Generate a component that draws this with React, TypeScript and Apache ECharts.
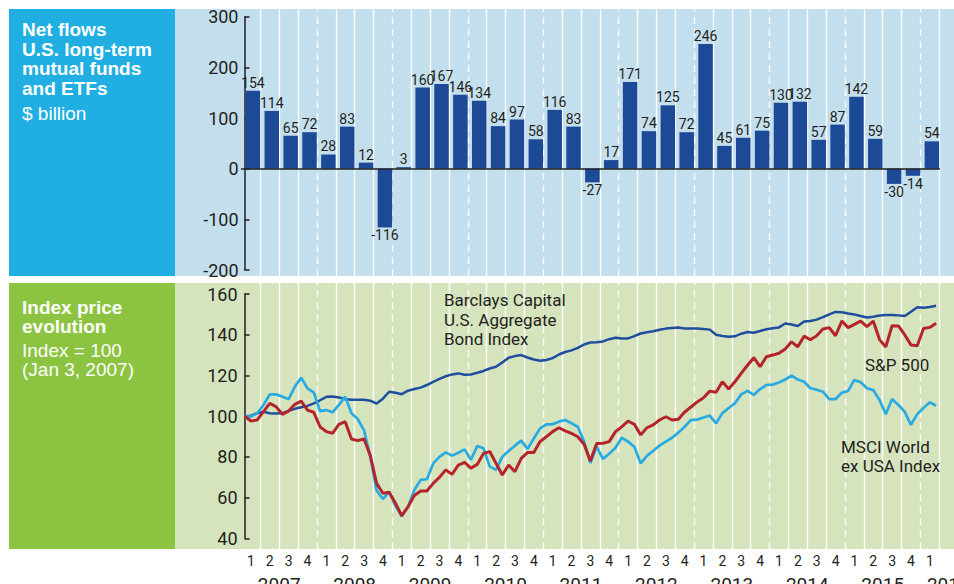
import React, { useEffect, useRef } from 'react';
import * as echarts from 'echarts';

// ---------- data ----------
const years = ['2007', '2008', '2009', '2010', '2011', '2012', '2013', '2014', '2015', '2016'];

const quarterLabels = [
  '1', '2', '3', '4', '1', '2', '3', '4', '1', '2', '3', '4', '1', '2', '3', '4',
  '1', '2', '3', '4', '1', '2', '3', '4', '1', '2', '3', '4', '1', '2', '3', '4',
  '1', '2', '3', '4', '1',
];

// Net flows, U.S. long-term mutual funds and ETFs, $ billion (quarterly, 2007 Q1 - 2016 Q1)
const netFlows = [
  154, 114, 65, 72, 28, 83, 12, -116, 3, 160, 167, 146, 134, 84, 97, 58,
  116, 83, -27, 17, 171, 74, 125, 72, 246, 45, 61, 75, 130, 132, 57, 87,
  142, 59, -30, -14, 54,
];

// Monthly index levels, Jan 2007 = 100
const bondIndex = [
  100, 100.2, 101.5, 102.2, 101.4, 101.3, 101.5, 102.6, 103.6, 104.4, 105, 106.3,
  107.8, 109.5, 109.7, 109.2, 108.3, 108, 108.1, 108.1, 107.6, 106.2, 108.6, 112,
  111.5, 110.8, 112.5, 113.3, 114, 115.3, 116.8, 118.3, 119.6, 120.5, 121, 120.3,
  120.5, 121.3, 122.2, 123.4, 124.3, 126.4, 128.7, 129.5, 130, 128.8, 127.8, 127.2,
  127.6, 128.5, 130.3, 131.5, 132.3, 133.5, 135.2, 136.2, 136.3, 136.7, 137.8, 138.5,
  138.1, 138.2, 139.3, 140.6, 141.2, 141.7, 142.4, 143, 143.3, 143.5, 143.1, 143.1,
  143, 142.8, 142.5, 140, 139.4, 139, 139.2, 140.5, 141.3, 141, 141.8, 142.7,
  143.2, 143.6, 145.5, 145, 144.3, 146.5, 146.7, 147.4, 148.6, 150, 151.2, 151,
  150.4, 149.9, 149.2, 148.5, 148.8, 149.4, 149.7, 149.7, 149.5, 149.2, 151.3, 153.5,
  153.3, 153.6, 154.2,
];

const sp500 = [
  100, 97.6, 98.1, 102.2, 106.3, 104.7, 100.9, 102.5, 105.8, 107.4, 103, 101.9,
  94.8, 92.4, 91.6, 96, 97.3, 88.8, 88, 88.8, 80.6, 67, 62.1, 62.6,
  57.2, 51.1, 55.5, 61, 63.2, 63.2, 67, 70, 73.6, 71.4, 76, 77.3,
  74.4, 76.3, 81.7, 82.6, 76.8, 71.1, 76, 72.7, 79.3, 82.1, 82.1, 87.5,
  89.9, 92.4, 94.3, 92.8, 91.5, 89.9, 86.2, 78, 86.6, 86.7, 87.5, 92.4,
  94.8, 97.6, 96, 90.8, 94.3, 95.7, 98.1, 99.7, 98.1, 98.5, 102, 104.5,
  107, 109, 112.3, 111.7, 116.9, 113.3, 116.9, 121, 125, 128.7, 124.3, 129.2,
  130, 130.9, 133, 136.5, 134.1, 139.3, 137.5, 139.5, 142.8, 143.5, 139.5, 146.7,
  143.5, 145.1, 146.7, 144, 146.7, 137.6, 134, 144.4, 144.3, 140, 135, 134.6,
  143.1, 143.6, 145.6,
];

const msciWorldExUsa = [
  100, 99.8, 101.4, 105.5, 110.7, 110.7, 109.6, 108.3, 114.5, 118.9, 113.7, 111.7,
  102.5, 103, 101.9, 105.5, 109.6, 101.4, 98.6, 93, 80, 63.5, 59.3, 62.9,
  56, 50.8, 55.5, 63.7, 68.7, 69, 76.8, 80, 82.2, 80.6, 82, 83.7,
  78.5, 85.3, 84.2, 75.2, 73.6, 80.1, 82.9, 85.5, 88, 83.9, 89, 94,
  96, 96, 97.3, 98.1, 96.5, 94.8, 87.5, 77, 85, 79, 81.5, 84.5,
  89.4, 87.5, 85, 76.8, 80.5, 83, 85.5, 87.5, 89.4, 91.9, 94.8, 98.1,
  98.3, 99.3, 100.3, 96.5, 101.5, 104, 106.3, 110.7, 112.4, 110.4, 113.3, 115.3,
  115.5, 116.5, 118, 119.9, 118, 116.9, 113.7, 113, 112, 108.4, 108.4, 111.5,
  112.4, 117.8, 116.6, 113.7, 112.8, 107.9, 100.9, 108.4, 105.5, 102.2, 95.7, 101,
  104, 106.8, 105.1,
];

const flowAxis = { min: -200, max: 300, step: 100 };
const indexAxis = { min: 40, max: 160, step: 20 };

// ---------- styling ----------
const FONT = "Roboto, 'Liberation Sans', Arial, sans-serif";
const SIDE_FONT = "'Liberation Sans', Arial, sans-serif";
const INK = '#231f20';

const App: React.FC = () => {
  const ref = useRef<HTMLDivElement>(null);

  useEffect(() => {
    if (!ref.current) return;
    const chart = echarts.init(ref.current, undefined, { renderer: 'svg' });

    const nQ = quarterLabels.length;
    const splitLineData = quarterLabels.map((_, i) => {
      const b = i + 1;
      const yearEdge = b % 4 === 0 && b < nQ;
      return {
        xAxis: b,
        lineStyle: { color: '#ffffff', width: 1.3, type: yearEdge ? [7, 5] : 'solid' },
      };
    });
    const markLineOpt = {
      silent: true,
      z: 1,
      symbol: ['none', 'none'],
      label: { show: false },
      animation: false,
      data: splitLineData,
    };

    const hiddenValueAxis = (gridIndex: number, min: number, max: number) => ({
      gridIndex, type: 'value', min, max, show: false,
    });

    const sideText = (text: string, y: number, bold: boolean) => ({
      type: 'text',
      x: 22,
      y,
      z: 10,
      style: {
        text,
        fill: '#ffffff',
        fontSize: 19,
        fontWeight: bold ? 'bold' : 'normal',
        fontFamily: SIDE_FONT,
        textAlign: 'left',
        verticalAlign: 'middle',
        textVerticalAlign: 'middle',
      },
    });
    const noteText = (text: string, x: number, y: number) => ({
      type: 'text',
      x,
      y,
      z: 10,
      style: {
        text,
        fill: INK,
        fontSize: 17,
        fontFamily: FONT,
        textAlign: 'left',
        verticalAlign: 'middle',
        textVerticalAlign: 'middle',
      },
    });

    const gridBase = { containLabel: false, outerBoundsMode: 'none' };

    const option: any = {
      animation: false,
      grid: [
        { ...gridBase, left: 241.5, right: 14.7, top: 16.7, bottom: 314 }, // 0 bars
        { ...gridBase, left: 241.5, right: 14.7, top: 9, bottom: 308 }, // 1 top split lines
        { ...gridBase, left: 244.6, right: 17.9, top: 294, bottom: 45.7 }, // 2 index lines
        { ...gridBase, left: 241.5, right: 14.7, top: 283, bottom: 35 }, // 3 bottom split lines + labels
      ],
      xAxis: [
        {
          gridIndex: 0,
          type: 'category',
          data: quarterLabels,
          z: 5,
          axisLine: { show: true, onZero: true, lineStyle: { color: INK, width: 1.5 } },
          axisTick: { show: false },
          axisLabel: { show: false },
          splitLine: { show: false },
        },
        hiddenValueAxis(1, 0, nQ),
        hiddenValueAxis(2, 0, bondIndex.length - 1),
        hiddenValueAxis(3, 0, nQ),
        {
          gridIndex: 3,
          type: 'category',
          position: 'bottom',
          data: quarterLabels,
          axisLine: { show: false },
          axisTick: { show: false },
          splitLine: { show: false },
          axisLabel: {
            interval: 0,
            hideOverlap: false,
            color: INK,
            fontSize: 14,
            fontFamily: FONT,
            margin: 5,
          },
        },
        {
          gridIndex: 3,
          type: 'value',
          position: 'bottom',
          min: 0,
          max: nQ,
          interval: 2,
          axisLine: { show: false },
          axisTick: { show: false },
          splitLine: { show: false },
          axisLabel: {
            showMinLabel: true,
            showMaxLabel: true,
            hideOverlap: false,
            color: INK,
            fontSize: 19,
            fontFamily: FONT,
            margin: 26,
            rich: {
              last: { color: INK, fontSize: 19, fontFamily: FONT, padding: [0, 0, 0, 18] },
            },
            formatter: (v: number) => {
              if (v === nQ) return '{last|' + years[years.length - 1] + '}';
              if ((v - 2) % 4 === 0) return years[(v - 2) / 4] ?? '';
              return '';
            },
          },
        },
      ],
      yAxis: [
        {
          gridIndex: 0,
          type: 'value',
          min: flowAxis.min,
          max: flowAxis.max,
          interval: flowAxis.step,
          offset: -3,
          axisLine: { show: true, lineStyle: { color: INK, width: 1.5 } },
          axisTick: { show: true, inside: true, length: 5, lineStyle: { color: INK, width: 1.5 } },
          axisLabel: { color: INK, fontSize: 18, fontFamily: FONT, margin: 6 },
          splitLine: { show: false },
        },
        hiddenValueAxis(1, 0, 1),
        {
          gridIndex: 2,
          type: 'value',
          min: indexAxis.min,
          max: indexAxis.max,
          interval: indexAxis.step,
          axisLine: { show: true, lineStyle: { color: INK, width: 1.5 } },
          axisTick: { show: true, inside: true, length: 5, lineStyle: { color: INK, width: 1.5 } },
          axisLabel: { color: INK, fontSize: 18, fontFamily: FONT, margin: 7 },
          splitLine: { show: false },
        },
        hiddenValueAxis(3, 0, 1),
      ],
      series: [
        {
          type: 'line', xAxisIndex: 1, yAxisIndex: 1, data: [], z: 1, silent: true,
          markLine: markLineOpt,
        },
        {
          type: 'line', xAxisIndex: 3, yAxisIndex: 3, data: [], z: 1, silent: true,
          markLine: markLineOpt,
        },
        {
          type: 'bar',
          xAxisIndex: 0,
          yAxisIndex: 0,
          data: netFlows.map(() => 0),
          barWidth: 4,
          barGap: '0%',
          silent: true,
          z: 2,
          itemStyle: { color: 'rgba(0,0,0,0)' },
        },
        {
          type: 'bar',
          name: 'Net flows',
          xAxisIndex: 0,
          yAxisIndex: 0,
          barWidth: 14.5,
          barGap: '0%',
          z: 3,
          itemStyle: { color: '#1d4a96' },
          label: {
            show: true,
            position: 'top',
            distance: 1,
            color: INK,
            fontSize: 14,
            fontFamily: FONT,
          },
          data: netFlows.map((v) => (v < 0 ? { value: v, label: { position: 'bottom' } } : v)),
        },
        {
          type: 'line',
          name: 'Barclays Capital U.S. Aggregate Bond Index',
          xAxisIndex: 2,
          yAxisIndex: 2,
          showSymbol: false,
          z: 3,
          lineStyle: { color: '#1f4e9e', width: 2.5 },
          data: bondIndex.map((v, i) => [i, v]),
        },
        {
          type: 'line',
          name: 'MSCI World ex USA Index',
          xAxisIndex: 2,
          yAxisIndex: 2,
          showSymbol: false,
          z: 3,
          lineStyle: { color: '#29abe2', width: 2.7 },
          data: msciWorldExUsa.map((v, i) => [i, v]),
        },
        {
          type: 'line',
          name: 'S&P 500',
          xAxisIndex: 2,
          yAxisIndex: 2,
          showSymbol: false,
          z: 4,
          lineStyle: { color: '#b5242b', width: 3 },
          data: sp500.map((v, i) => [i, v]),
        },
      ],
      graphic: [
        { type: 'rect', z: -5, shape: { x: 9, y: 9, width: 166, height: 267 }, style: { fill: '#21aee3' } },
        { type: 'rect', z: -5, shape: { x: 175, y: 9, width: 779, height: 267 }, style: { fill: '#c3dfee' } },
        { type: 'rect', z: -5, shape: { x: 9, y: 283, width: 166, height: 266 }, style: { fill: '#8cc341' } },
        { type: 'rect', z: -5, shape: { x: 175, y: 283, width: 779, height: 266 }, style: { fill: '#d6e4be' } },
        sideText('Net flows', 29, true),
        sideText('U.S. long-term', 49, true),
        sideText('mutual funds', 68.5, true),
        sideText('and ETFs', 88, true),
        sideText('$ billion', 113, false),
        sideText('Index price', 307, true),
        sideText('evolution', 326, true),
        sideText('Index = 100', 350.5, false),
        sideText('(Jan 3, 2007)', 369.5, false),
        noteText('Barclays Capital', 444, 300),
        noteText('U.S. Aggregate', 444, 320),
        noteText('Bond Index', 444, 339),
        noteText('S&P 500', 865, 365),
        noteText('MSCI World', 841, 446.5),
        noteText('ex USA Index', 841, 465.5),
      ],
    };

    chart.setOption(option);
    return () => {
      chart.dispose();
    };
  }, []);

  return (
    <div
      ref={ref}
      style={{ position: 'absolute', left: 0, top: 0, width: 954, height: 584 }}
    />
  );
};

export default App;
